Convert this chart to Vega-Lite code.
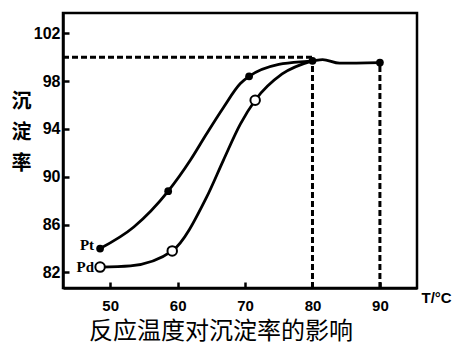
{
  "$schema": "https://vega.github.io/schema/vega-lite/v6.json",
  "width": 354,
  "height": 275,
  "autosize": {"type": "none"},
  "padding": {"left": 63, "top": 13, "right": 40, "bottom": 59},
  "background": "white",
  "config": {
    "view": {"stroke": "black", "strokeWidth": 2.5},
    "axis": {
      "grid": false,
      "domainColor": "black",
      "domainWidth": 2.5,
      "tickColor": "black",
      "tickWidth": 2.5,
      "tickSize": -6,
      "labelFont": "Liberation Sans",
      "labelFontWeight": "bold",
      "labelFontSize": 16,
      "labelColor": "black"
    }
  },
  "title": {
    "text": "反应温度对沉淀率的影响",
    "orient": "bottom",
    "font": "Noto Sans CJK SC",
    "fontSize": 24,
    "fontWeight": "normal",
    "color": "black",
    "offset": 7,
    "dx": -19
  },
  "datasets": {
    "curves": [
      {"series": "Pt", "t": 48.5, "v": 84.0},
      {"series": "Pt", "t": 53.5, "v": 85.8},
      {"series": "Pt", "t": 58.6, "v": 88.8},
      {"series": "Pt", "t": 61.9, "v": 91.4},
      {"series": "Pt", "t": 64.3, "v": 93.6},
      {"series": "Pt", "t": 66.8, "v": 95.8},
      {"series": "Pt", "t": 69.3, "v": 97.8},
      {"series": "Pt", "t": 70.6, "v": 98.4},
      {"series": "Pt", "t": 75.0, "v": 99.4},
      {"series": "Pt", "t": 80.0, "v": 99.7},
      {"series": "Pt", "t": 81.5, "v": 99.8},
      {"series": "Pt", "t": 84.0, "v": 99.5},
      {"series": "Pt", "t": 90.0, "v": 99.55},
      {"series": "Pd", "t": 48.5, "v": 82.45},
      {"series": "Pd", "t": 53.0, "v": 82.55},
      {"series": "Pd", "t": 59.2, "v": 83.8},
      {"series": "Pd", "t": 64.3, "v": 88.3},
      {"series": "Pd", "t": 66.8, "v": 91.4},
      {"series": "Pd", "t": 69.3, "v": 94.4},
      {"series": "Pd", "t": 71.5, "v": 96.4},
      {"series": "Pd", "t": 75.5, "v": 98.6},
      {"series": "Pd", "t": 80.0, "v": 99.7}
    ],
    "markers": [
      {"series": "Pt", "t": 48.5, "v": 84.0},
      {"series": "Pt", "t": 58.6, "v": 88.8},
      {"series": "Pt", "t": 70.6, "v": 98.4},
      {"series": "Pt", "t": 80.0, "v": 99.7},
      {"series": "Pt", "t": 90.0, "v": 99.55},
      {"series": "Pd", "t": 48.5, "v": 82.45},
      {"series": "Pd", "t": 59.2, "v": 83.8},
      {"series": "Pd", "t": 71.5, "v": 96.4}
    ],
    "guides": [
      {"t1": 43, "t2": 80, "v1": 100, "v2": 100},
      {"t1": 80, "t2": 80, "v1": 80.7, "v2": 99.7},
      {"t1": 90, "t2": 90, "v1": 80.7, "v2": 99.55}
    ],
    "labels": [
      {"series": "Pt", "t": 48.5, "v": 84.3},
      {"series": "Pd", "t": 48.5, "v": 82.45}
    ]
  },
  "layer": [
    {
      "data": {"name": "guides"},
      "mark": {"type": "rule", "color": "black", "strokeWidth": 3, "strokeDash": [6, 3]},
      "encoding": {
        "x": {"field": "t1", "type": "quantitative", "scale": {"domain": [43, 95.5], "nice": false, "zero": false},
              "axis": {"values": [50, 60, 70, 80, 90], "title": "T/°C", "titleFont": "Liberation Sans", "titleFontWeight": "bold", "titleFontSize": 15, "titleColor": "black", "titleAnchor": "start", "titleAlign": "left", "titleX": 358, "titleY": 9, "titleBaseline": "middle", "labelPadding": 16, "labelFontSize": 15}},
        "x2": {"field": "t2"},
        "y": {"field": "v1", "type": "quantitative", "scale": {"domain": [80.7, 103.7], "nice": false, "zero": false},
              "axis": {"values": [82, 86, 90, 94, 98, 102], "title": ["沉", "淀", "率"], "titleAngle": 0, "titleFont": "Noto Sans CJK SC", "titleFontWeight": "bold", "titleFontSize": 20, "titleColor": "black", "titleLineHeight": 31, "titleX": -42, "titleY": 88, "titleBaseline": "middle", "titleAlign": "center", "labelPadding": 9}},
        "y2": {"field": "v2"}
      }
    },
    {
      "data": {"name": "curves"},
      "mark": {"type": "line", "color": "black", "strokeWidth": 2.8, "interpolate": "monotone"},
      "encoding": {
        "x": {"field": "t", "type": "quantitative"},
        "y": {"field": "v", "type": "quantitative"},
        "detail": {"field": "series"}
      }
    },
    {
      "data": {"name": "markers"},
      "transform": [{"filter": "datum.series === 'Pt'"}],
      "mark": {"type": "point", "shape": "circle", "filled": true, "color": "black", "size": 60, "opacity": 1},
      "encoding": {
        "x": {"field": "t", "type": "quantitative"},
        "y": {"field": "v", "type": "quantitative"}
      }
    },
    {
      "data": {"name": "markers"},
      "transform": [{"filter": "datum.series === 'Pd'"}],
      "mark": {"type": "point", "shape": "circle", "filled": false, "fill": "white", "fillOpacity": 1, "stroke": "black", "strokeWidth": 2, "size": 90, "opacity": 1},
      "encoding": {
        "x": {"field": "t", "type": "quantitative"},
        "y": {"field": "v", "type": "quantitative"}
      }
    },
    {
      "data": {"name": "labels"},
      "mark": {"type": "text", "font": "Liberation Serif", "fontWeight": "bold", "fontSize": 15, "align": "right", "baseline": "middle", "dx": -6, "color": "black"},
      "encoding": {
        "x": {"field": "t", "type": "quantitative"},
        "y": {"field": "v", "type": "quantitative"},
        "text": {"field": "series"}
      }
    }
  ]
}
